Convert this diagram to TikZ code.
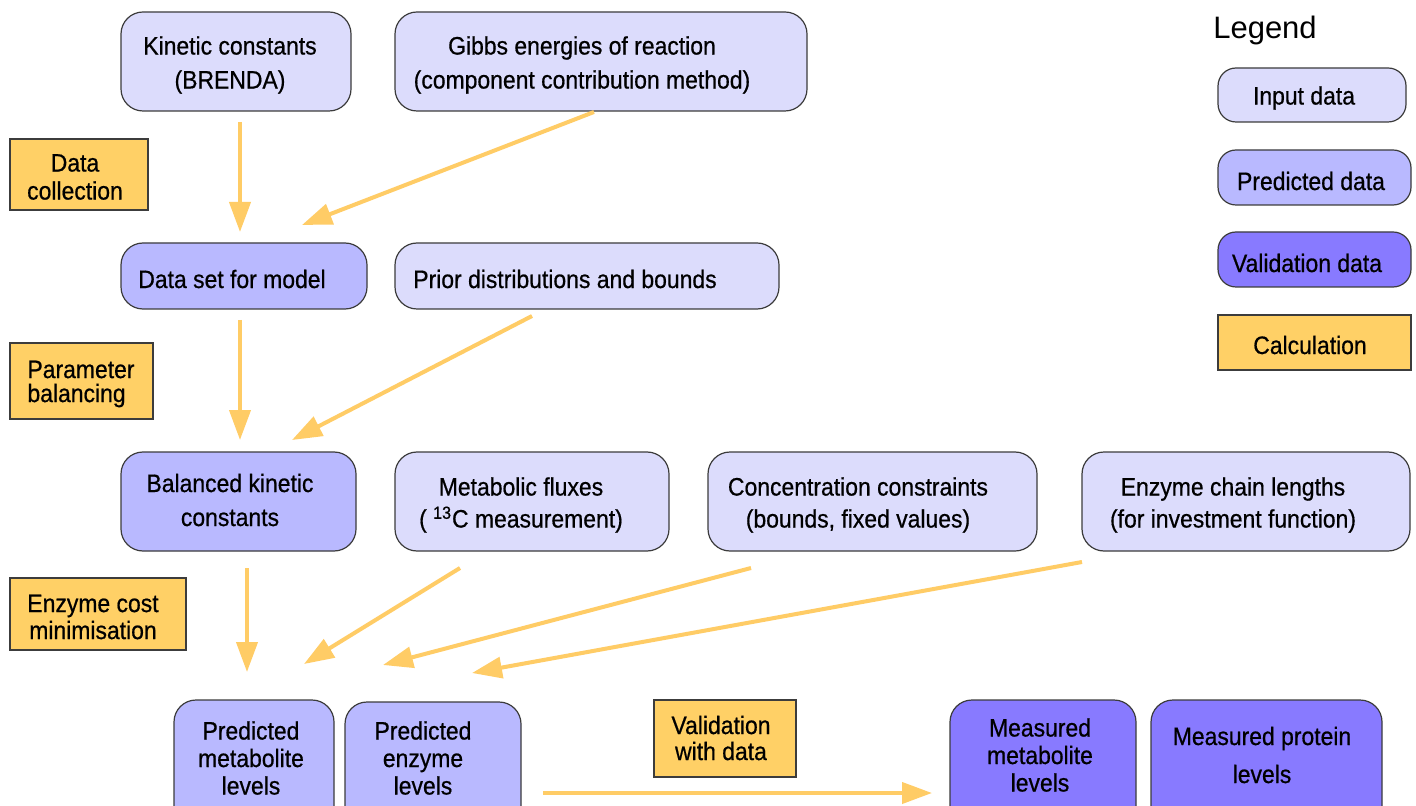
\documentclass[tikz,border=0pt]{standalone}
\usepackage{fontspec}
\setmainfont{Liberation Sans}[FakeStretch=0.91,FakeBold=0.6]
\newfontfamily\legfont{Liberation Sans}
\usetikzlibrary{arrows.meta}
\definecolor{inputc}{RGB}{220,220,252}
\definecolor{predc}{RGB}{185,185,255}
\definecolor{valc}{RGB}{136,122,255}
\definecolor{calcc}{RGB}{255,208,102}
\definecolor{arrowc}{RGB}{255,204,102}
\definecolor{edgec}{RGB}{60,60,60}
\tikzset{
  dbox/.style={draw=edgec, line width=0.6pt, rounded corners=11pt, inner sep=0pt},
  inbox/.style={dbox, fill=inputc},
  predbox/.style={dbox, fill=predc},
  valbox/.style={dbox, fill=valc},
  calcbox/.style={draw=edgec, line width=0.6pt, fill=calcc, inner sep=0pt},
  txt/.style={font=\fontsize{12.6}{#1}\selectfont, align=center, inner sep=0pt},
  flow/.style={draw=arrowc, line width=2pt, -{Triangle[length=15pt,width=10.5pt]}},
}
\begin{document}
\begin{tikzpicture}[x=0.5pt,y=-0.5pt]
\useasboundingbox (0,0) rectangle (1416,806);
\clip (0,0) rectangle (1416,806);
\fill[white] (0,0) rectangle (1416,806);

% row 1
\node[inbox, minimum width=115pt, minimum height=49.5pt] (kin) at (236,61.5) {};
\node[txt=17pt] (kint) at (230,65) {Kinetic constants\\(BRENDA)};
\node[inbox, minimum width=206pt, minimum height=49.5pt] (gib) at (601,61.5) {};
\node[txt=17pt] (gibt) at (582,65) {Gibbs energies of reaction\\(component contribution method)};
\node[calcbox, minimum width=69pt, minimum height=35.5pt] (dc) at (79,174.5) {};
\node[txt=14pt] (dct) at (75,177) {Data\\collection};

% row 2
\node[predbox, minimum width=123pt, minimum height=33pt] (ds) at (244,276) {};
\node[txt=17pt] (dst) at (232,279) {Data set for model};
\node[inbox, minimum width=192pt, minimum height=33pt] (pri) at (587,276) {};
\node[txt=17pt] (prit) at (565,279) {Prior distributions and bounds};
\node[calcbox, minimum width=71.5pt, minimum height=38pt] (pb) at (81.5,381) {};
\node[txt=12pt, align=left] (pbt) at (81,384) {Parameter\\balancing};

% row 3
\node[predbox, minimum width=117.5pt, minimum height=49.5pt] (bal) at (238.5,501.5) {};
\node[txt=17pt] (balt) at (230,500) {Balanced kinetic\\constants};
\node[inbox, minimum width=137pt, minimum height=49.5pt] (mf) at (532,501.5) {};
\node[txt=16pt] (mft) at (521,505) {Metabolic fluxes\\( \textsuperscript{13}C measurement)};
\node[inbox, minimum width=164.5pt, minimum height=49.5pt] (cc) at (872.5,501.5) {};
\node[txt=16pt] (cct) at (858,505) {Concentration constraints\\(bounds, fixed values)};
\node[inbox, minimum width=164pt, minimum height=49.5pt] (ec) at (1246,501.5) {};
\node[txt=16pt] (ect) at (1233,505) {Enzyme chain lengths\\(for investment function)};
\node[calcbox, minimum width=88pt, minimum height=36pt] (ecm) at (98,614) {};
\node[txt=13.5pt] (ecmt) at (93,617) {Enzyme cost\\minimisation};

% row 4
\node[predbox, minimum width=80pt, minimum height=65pt] (pm) at (254,765) {};
\node[txt=13.75pt] (pmt) at (251,758) {Predicted\\metabolite\\levels};
\node[predbox, minimum width=88pt, minimum height=64pt] (pe) at (433,766) {};
\node[txt=13.75pt] (pet) at (423,758) {Predicted\\enzyme\\levels};
\node[calcbox, minimum width=71pt, minimum height=38.5pt] (vd) at (725,738.5) {};
\node[txt=13pt] (vdt) at (721,738) {Validation\\with data};
\node[valbox, minimum width=93pt, minimum height=65pt] (mm) at (1043,765) {};
\node[txt=13.75pt] (mmt) at (1040,755) {Measured\\metabolite\\levels};
\node[valbox, minimum width=115.5pt, minimum height=65pt] (mp) at (1266.5,765) {};
\node[txt=19pt] (mpt) at (1262,755) {Measured protein\\levels};

% legend
\node[font=\legfont\fontsize{15.5}{18}\selectfont, inner sep=0pt] (leg) at (1265,30) {Legend};
\node[dbox, rounded corners=9pt, fill=inputc, minimum width=94pt, minimum height=27pt] (li) at (1312,95) {};
\node[txt=17pt] (lit) at (1304,98) {Input data};
\node[dbox, rounded corners=9pt, fill=predc, minimum width=96.5pt, minimum height=27.5pt] (lp) at (1314.5,177.5) {};
\node[txt=17pt] (lpt) at (1311,181) {Predicted data};
\node[dbox, rounded corners=9pt, fill=valc, minimum width=96.5pt, minimum height=27.5pt] (lv) at (1314.5,259.5) {};
\node[txt=17pt] (lvt) at (1307,263) {Validation data};
\node[calcbox, minimum width=96.5pt, minimum height=27.5pt] (lc) at (1314.5,342.5) {};
\node[txt=17pt] (lct) at (1310,345) {Calculation};

% arrow endpoints
\coordinate (a1s) at (240,122); \coordinate (a1e) at (240,232);
\coordinate (a2s) at (594,112); \coordinate (a2e) at (302,225);
\coordinate (a3s) at (240,320); \coordinate (a3e) at (240,440);
\coordinate (a4s) at (532,316); \coordinate (a4e) at (292,440);
\coordinate (a5s) at (247,568); \coordinate (a5e) at (247,672);
\coordinate (a6s) at (460,568); \coordinate (a6e) at (304,664);
\coordinate (a7s) at (751,568); \coordinate (a7e) at (383,665);
\coordinate (a8s) at (1082,562); \coordinate (a8e) at (472,673);
\coordinate (a9s) at (543,793); \coordinate (a9e) at (932,793);

\draw[flow] (a1s) -- (a1e);
\draw[flow] (a2s) -- (a2e);
\draw[flow] (a3s) -- (a3e);
\draw[flow] (a4s) -- (a4e);
\draw[flow] (a5s) -- (a5e);
\draw[flow] (a6s) -- (a6e);
\draw[flow] (a7s) -- (a7e);
\draw[flow] (a8s) -- (a8e);
\draw[flow] (a9s) -- (a9e);
\end{tikzpicture}
\end{document}
